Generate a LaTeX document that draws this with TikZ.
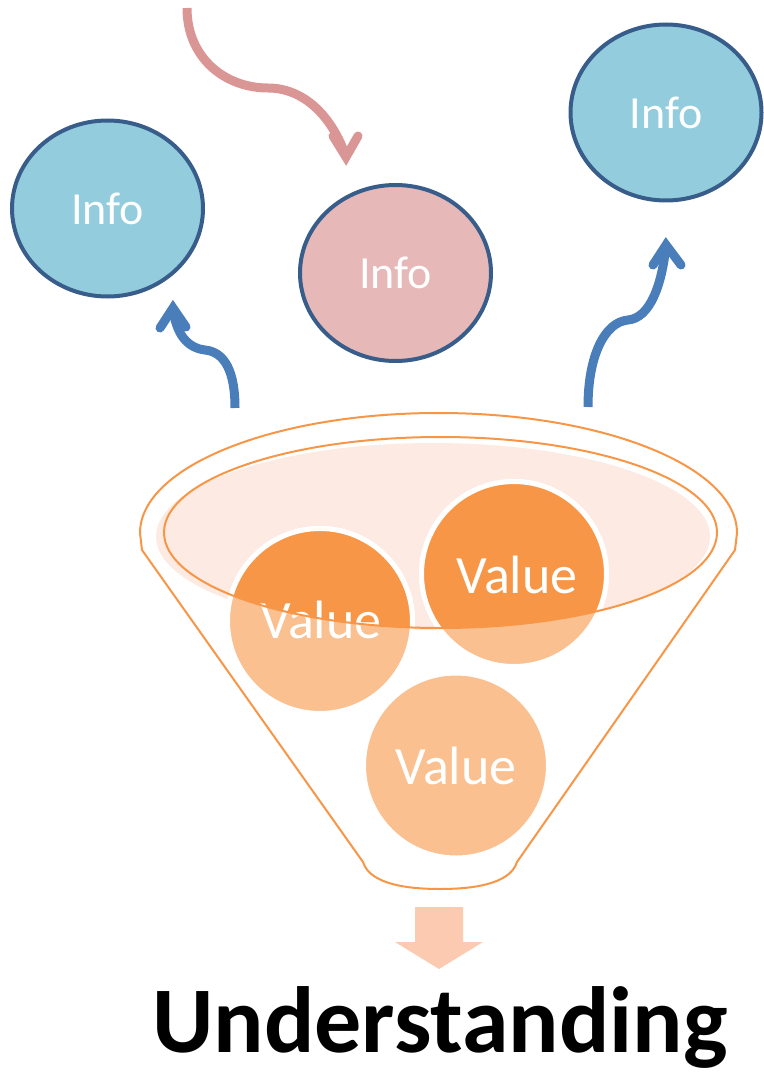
\documentclass[tikz,border=0pt]{standalone}
\usepackage{fontspec}
\setmainfont{Carlito}
\usetikzlibrary{shapes.geometric}
\definecolor{infoblue}{HTML}{93CDDD}
\definecolor{infoborder}{HTML}{385D8A}
\definecolor{infopink}{HTML}{E6B9B8}
\definecolor{arrowblue}{HTML}{4A7EBB}
\definecolor{arrowpink}{HTML}{D99694}
\definecolor{funnelorange}{HTML}{F79646}
\definecolor{valdark}{HTML}{F79646}
\definecolor{vallight}{HTML}{FAC090}
\definecolor{bowlfill}{HTML}{FDEAE2}
\definecolor{downfill}{HTML}{FBCAB0}
\begin{document}
\begin{tikzpicture}[x=1pt,y=-1pt,
  infonode/.style={ellipse, draw=infoborder, line width=4pt, inner sep=0pt,
    minimum width=191pt, minimum height=176pt, text=white,
    font=\fontsize{46}{50}\selectfont},
  valnode/.style={circle, draw=white, line width=5pt, fill=vallight,
    minimum size=185pt, inner sep=0pt},
  valtext/.style={text=white, font=\fontsize{54}{60}\selectfont, inner sep=0pt},
  curvearrow/.style={line width=9pt, line cap=butt},
  chevron/.style={line width=9pt, line cap=round, line join=miter},
  funnelline/.style={draw=funnelorange, line width=2pt}]
\useasboundingbox (0,0) rectangle (763,1075);

% funnel outline
\draw[funnelline] (140,533) arc[start angle=180, end angle=360, x radius=298.5, y radius=120]
  -- (735,550) -- (517,862)
  .. controls (510,885) and (470,889) .. (440,889)
  .. controls (410,889) and (370,885) .. (363,862)
  -- (142,550) -- cycle;

% bowl fill
\fill[bowlfill] (433,536.5) ellipse[x radius=277, y radius=93.5];

% value circles
\node[valnode] (v1) at (320,621) {};
\node[valnode] (v2) at (514,574) {};
\node[valnode] (v3) at (456,765.5) {};

\begin{scope}
  \clip (440.5,532.5) ellipse[x radius=276.5, y radius=95.5];
  \fill[valdark] (v1.center) circle[radius=92.5];
  \fill[valdark] (v2.center) circle[radius=92.5];
  \draw[white, line width=5pt] (v1.center) circle[radius=92.5];
  \draw[white, line width=5pt] (v2.center) circle[radius=92.5];
\end{scope}

\node[valtext] (v1t) at (321,620) {Value};
\node[valtext] (v2t) at (517,575) {Value};
\node[valtext] (v3t) at (456,766) {Value};

% bowl rim (inner ellipse stroke)
\draw[funnelline] (440.5,532.5) ellipse[x radius=276.5, y radius=95.5];

% info nodes
\node[infonode, fill=infoblue] (infoL) at (107.5,208.5) {Info};
\node[infonode, fill=infopink] (infoM) at (395.5,273) {Info};
\node[infonode, fill=infoblue] (infoR) at (666,112.5) {Info};

% arrows
\coordinate (pinkstart) at (187,8);
\coordinate (pinktip) at (346,157);
\coordinate (lstart) at (235,408);
\coordinate (ltip) at (173,308);
\coordinate (rstart) at (588,407);
\coordinate (rtip) at (666,245);

\draw[curvearrow, arrowpink] (pinkstart) .. controls +(0,50) and +(-43,0) .. (268,88)
  .. controls +(37,0) and +(-13,-39) .. (pinktip);
\draw[chevron, arrowpink] ([shift={(-13,-21)}]pinktip) -- (pinktip) -- ([shift={(12,-21)}]pinktip);

\draw[curvearrow, arrowblue] (lstart) .. controls +(0,-36) and +(20,2) .. (205,350)
  .. controls +(-17,-2) and +(3,27) .. (ltip);
\draw[chevron, arrowblue] ([shift={(-13,20)}]ltip) -- (ltip) -- ([shift={(13,19)}]ltip);

\draw[curvearrow, arrowblue] (rstart) .. controls +(0,-52) and +(-23,2) .. (628,320)
  .. controls +(22,-2) and +(-4,40) .. (rtip);
\draw[chevron, arrowblue] ([shift={(-13,20)}]rtip) -- (rtip) -- ([shift={(15,20)}]rtip);

% down arrow
\fill[downfill] (415,907) -- (463,907) -- (463,942) -- (483,942) -- (439,969)
  -- (395,942) -- (415,942) -- cycle;

\node[font=\fontsize{94}{100}\selectfont\bfseries, anchor=base, inner sep=0pt] (underst)
  at (440,1052) {Understanding};
\end{tikzpicture}
\end{document}
